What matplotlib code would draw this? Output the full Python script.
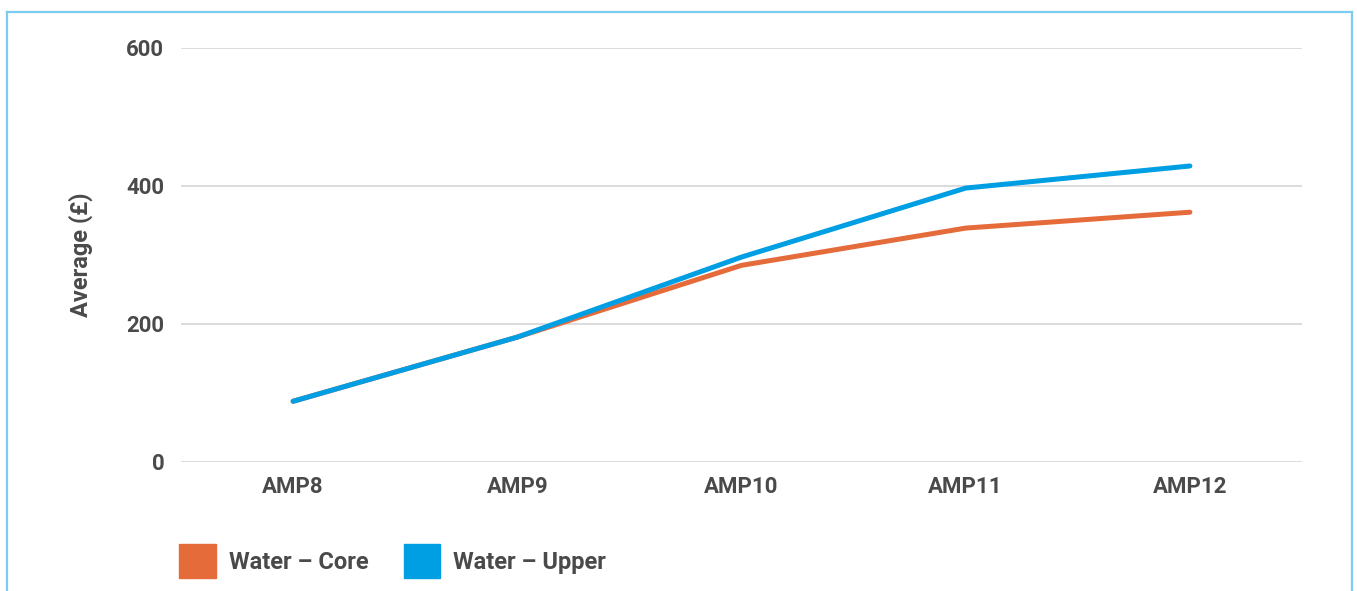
import matplotlib.pyplot as plt
from matplotlib.patches import Patch
from matplotlib.lines import Line2D

# data
periods = ["AMP8", "AMP9", "AMP10", "AMP11", "AMP12"]
water_core = [88, 181, 285, 339, 362]
water_upper = [88, 181, 297, 397, 429]

orange = "#E66B3B"
blue = "#009FE3"
text_col = "#4A4A4A"

plt.rcParams['font.family'] = ['Roboto', 'DejaVu Sans']
plt.rcParams['font.weight'] = 'bold'

fig = plt.figure(figsize=(13.57, 5.91), dpi=100)
ax = fig.add_axes([181 / 1357, 1 - 462 / 591, 1121 / 1357, 414 / 591])

x = list(range(len(periods)))
ax.plot(x, water_core, color=orange, lw=3.6, solid_capstyle='round', solid_joinstyle='round', zorder=3)
ax.plot(x, water_upper, color=blue, lw=3.6, solid_capstyle='round', solid_joinstyle='round', zorder=4)

ax.set_xlim(-0.5, len(periods) - 0.5)
ax.set_ylim(0, 600)
ax.set_yticks([0, 200, 400, 600])
ax.set_xticks(x)
ax.set_xticklabels(periods)
ax.grid(axis='y', color='#D9D9D9', lw=1.3)
ax.set_axisbelow(True)
for s in ax.spines.values():
    s.set_visible(False)
ax.tick_params(length=0, labelsize=16, labelcolor=text_col)
ax.tick_params(axis='y', pad=12)
ax.tick_params(axis='x', pad=10)
for lab in ax.get_xticklabels() + ax.get_yticklabels():
    lab.set_fontweight('bold')
ax.set_ylabel("Average (£)", fontsize=17, fontweight='bold', color=text_col, labelpad=24)

handles = [Patch(color=orange, label="Water – Core"), Patch(color=blue, label="Water – Upper")]
leg = fig.legend(handles=handles, loc='lower left', bbox_to_anchor=(158 / 1357, -0.014),
                 ncol=2, frameon=False, handlelength=1.55, handleheight=1.85,
                 handletextpad=0.55, columnspacing=1.5, fontsize=17)
for t in leg.get_texts():
    t.set_color(text_col)
    t.set_fontweight('bold')

# light blue frame, bottom edge cut off
fc = "#7CCBF0"
fx0, fx1, fy1 = 7 / 1357, 1352 / 1357, 1 - 12 / 591
fig.add_artist(Line2D([fx0, fx0], [0, fy1], color=fc, lw=1.6, transform=fig.transFigure))
fig.add_artist(Line2D([fx0, fx1], [fy1, fy1], color=fc, lw=1.6, transform=fig.transFigure))
fig.add_artist(Line2D([fx1, fx1], [0, fy1], color=fc, lw=1.6, transform=fig.transFigure))

fig.savefig("out.png", dpi=100)
